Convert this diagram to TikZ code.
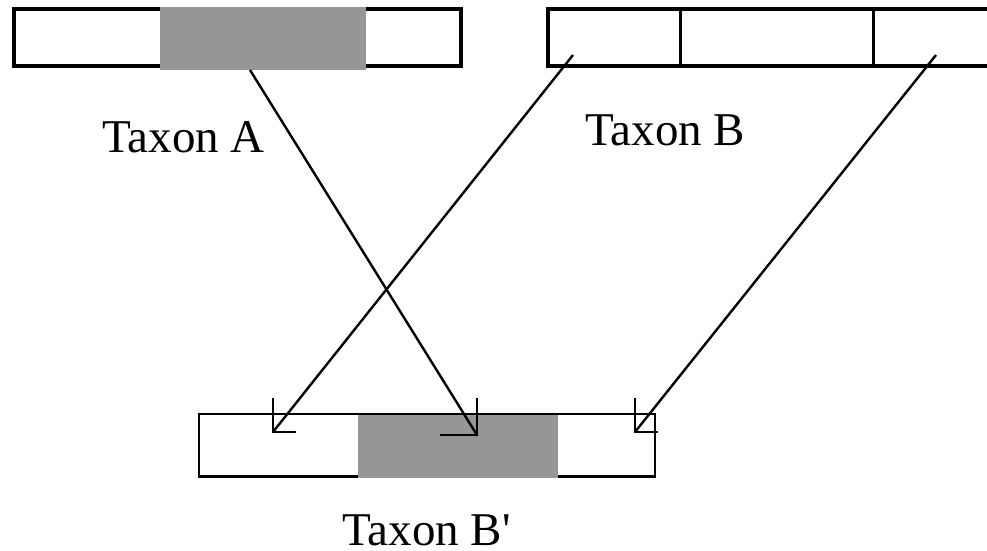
\documentclass[tikz,border=0pt]{standalone}
\usepackage{fontspec}
\setmainfont{Liberation Serif}
\definecolor{shade}{RGB}{150,150,150}
\begin{document}
\begin{tikzpicture}[x=1pt,y=-1pt,
  thickbox/.style={draw=black,line width=3.6pt},
  thinbox/.style={draw=black,line width=2.4pt},
  shaded/.style={fill=shade},
  conn/.style={draw=black,line width=2.4pt},
  lbl/.style={anchor=base west,inner sep=0pt,text depth=0pt,font=\fontsize{47}{50}\selectfont}]
\useasboundingbox (0,0) rectangle (987,551);
% Taxon A bar
\draw[thickbox] (13.8,8.8) rectangle (461.2,66.2);
\fill[shaded] (160,7) rectangle (366,70);
% Taxon B bar
\draw[thickbox] (547.8,8.8) rectangle (992,65.8);
\draw[thickbox] (680.5,8.8) -- (680.5,65.8);
\draw[thickbox] (873.5,8.8) -- (873.5,65.8);
% Taxon B' bar
\draw[thinbox] (199,414) rectangle (655,476.5);
\fill[shaded] (358,415) rectangle (558,477.5);
\draw[thinbox] (358,414) -- (558,414);
% labels
\node[lbl] (ta) at (102,152) {Taxon A};
\node[lbl] (tb) at (585,145) {Taxon B};
\node[lbl] (tbp) at (342,545) {Taxon B\textquotesingle};
% connectors
\coordinate (s1) at (250,70);
\coordinate (e1) at (477,435);
\coordinate (s2) at (573,55);
\coordinate (e2) at (273,432);
\coordinate (s3) at (936,55);
\coordinate (e3) at (635,432);
\draw[conn] (s1) -- (e1);
\draw[conn] (s2) -- (e2);
\draw[conn] (s3) -- (e3);
% L-shaped heads
\draw[conn] ([yshift=37pt]e1) -- (e1) -- ([xshift=-37pt]e1);
\draw[conn] ([yshift=34pt]e2) -- (e2) -- ([xshift=23pt]e2);
\draw[conn] ([yshift=34pt]e3) -- (e3) -- ([xshift=23pt]e3);
\end{tikzpicture}
\end{document}
